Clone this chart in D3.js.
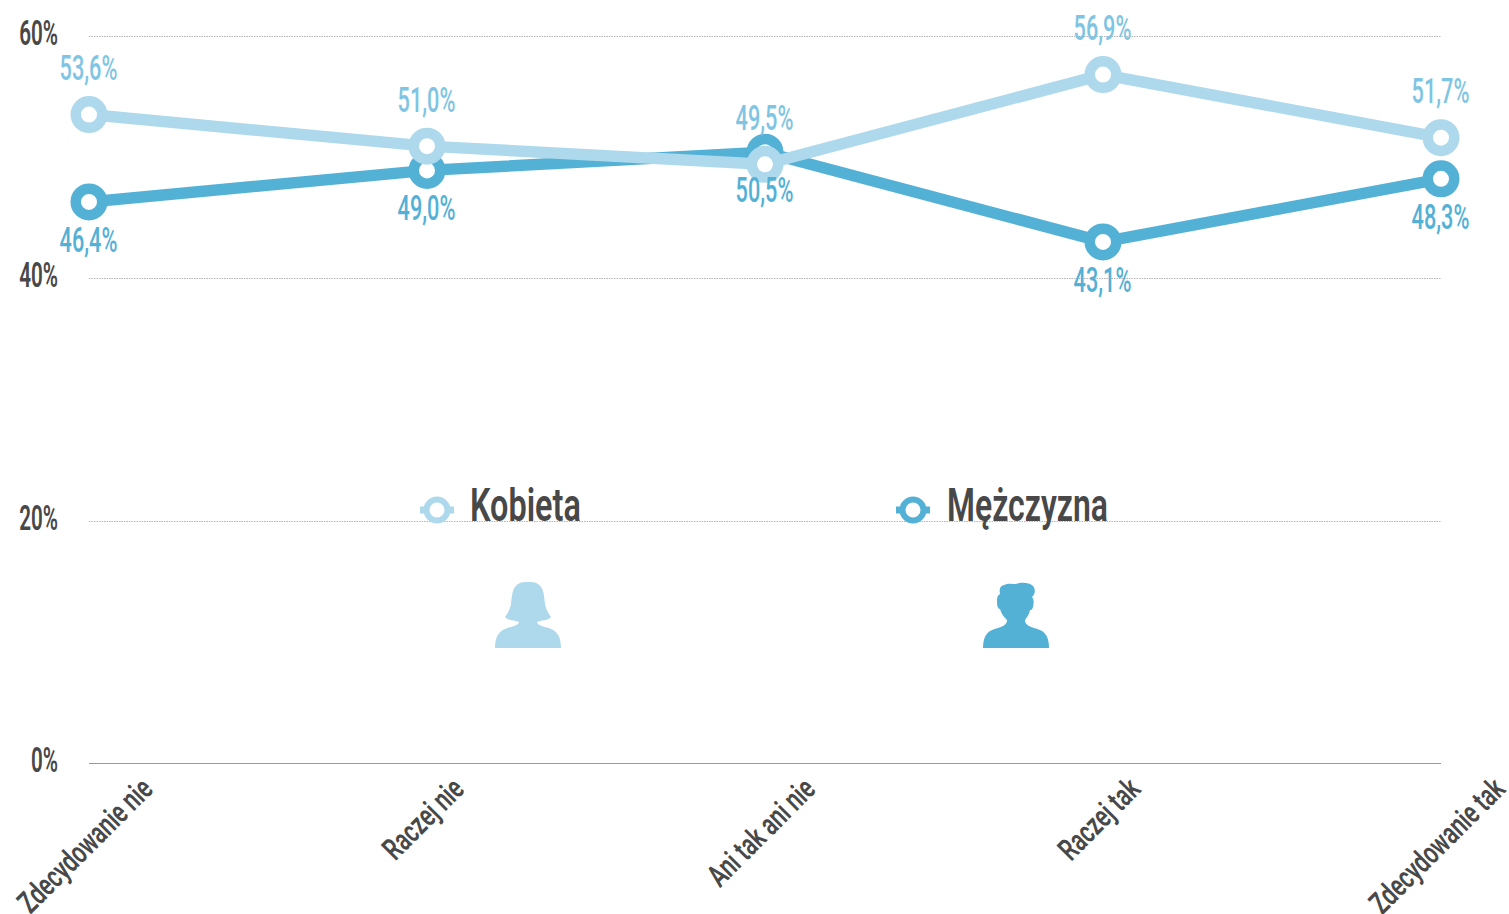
<!DOCTYPE html>
<html><head><meta charset="utf-8">
<script src="https://cdn.jsdelivr.net/npm/d3@7/dist/d3.min.js"></script>
<style>html,body{margin:0;padding:0;background:#fff;overflow:hidden}svg{display:block}
text{font-family:Roboto,sans-serif;font-weight:500}</style></head>
<body><svg id="c" width="1509" height="914"></svg>
<script>
const categories = ["Zdecydowanie nie","Raczej nie","Ani tak ani nie","Raczej tak","Zdecydowanie tak"];
const kobieta = [53.6,51.0,49.5,56.9,51.7];
const mezczyzna = [46.4,49.0,50.5,43.1,48.3];
const yTicks = [0,20,40,60];
const seriesNames = ["Kobieta","Mężczyzna"];

const LIGHT="#aed9ec", DARK="#54b1d6", LIGHTTXT="#7fc5e3", INK="#484848";
const svg=d3.select("#c");
const x=d3.scalePoint().domain(categories).range([89,1441]);
const y=d3.scaleLinear().domain([0,60]).range([764.5,37]);
const fmt=v=>v.toFixed(1).replace(".",",")+"%";
const SX=0.62;

function label(g,str,px,py,size,fill,anchor,sx=SX,rot=0,weight=500){
  return g.append("text").text(str)
    .attr("transform",`translate(${px},${py})${rot?` rotate(${rot})`:""} scale(${sx},1)`)
    .attr("text-anchor",anchor).attr("font-size",size).attr("fill",fill)
    .style("font-weight",weight);
}

const yAxis=d3.axisLeft(y).tickValues(yTicks).tickSize(0).tickPadding(0).tickFormat(d=>d+"%");
const ya=svg.append("g").attr("transform","translate(58,0)").call(yAxis);
ya.select(".domain").remove();
ya.selectAll("text").remove();
ya.selectAll(".tick").each(function(d){
  d3.select(this).append("text").text(d+"%").attr("text-anchor","end")
   .attr("transform","translate(0,7) scale(0.59,1)")
   .attr("font-size",35).attr("fill",INK).style("font-weight",600);
});
svg.append("g").selectAll("line").data(yTicks).join("line")
  .attr("x1",x(categories[0])).attr("x2",x(categories[4]))
  .attr("y1",d=>Math.floor(y(d))-0.5).attr("y2",d=>Math.floor(y(d))-0.5)
  .attr("stroke",d=>d===0?"#999":"#b5b5b5")
  .attr("stroke-width",1)
  .attr("stroke-dasharray",d=>d===0?null:"1.5,1");

const xa=svg.append("g");
const CSX=0.7;
categories.forEach(c=>{
  const t=label(xa,c,0,0,31,INK,"end",CSX,-45,600);
  const L=t.node().getComputedTextLength()*CSX;
  t.attr("transform",`translate(${x(c)+3.5+L/2*Math.SQRT1_2},791) rotate(-45) scale(${CSX},1)`);
});

function ring(g,cx,cy,color){
  g.append("line").attr("x1",cx-17).attr("x2",cx+17).attr("y1",cy).attr("y2",cy)
    .attr("stroke",color).attr("stroke-width",7);
  g.append("circle").attr("cx",cx).attr("cy",cy).attr("r",10.5)
    .attr("fill","#fff").attr("stroke",color).attr("stroke-width",6);
}
const lg=svg.append("g");
ring(lg,437,510,LIGHT);
ring(lg,913,510,DARK);
label(lg,seriesNames[0],470,521,46,INK,"start",0.705,0,600);
label(lg,seriesNames[1],947,521,46,INK,"start",0.695,0,600);

const woman="M-33,66 C-33,52 -27,47 -17,45 C-13,44 -9,42 -9,40 C-13,38 -20,39 -23,35 C-21,32 -18,28 -17,22 C-16,14 -16,6 -10,2 C-7,0 -3,0 0,0 C3,0 7,0 10,2 C16,6 16,14 17,22 C18,28 21,32 23,35 C20,39 13,38 9,40 C9,42 13,44 17,45 C27,47 33,52 33,66 Z";
const man="M-33,65 C-33,52 -28,47 -18,45 C-12,43 -9,41 -9,37 C-13,33 -15,30 -16,26 C-19,26 -19,20 -19,17 C-19,14 -18,12 -16,11 C-17,6 -16,3 -12,2 C-8,0 -4,1 0,1 C5,-1 13,-1 17,3 C20,7 19,11 16,14 C18,16 18,20 17,24 C16,27 15,27 14,27 C13,32 11,34 9,37 C9,41 12,43 18,45 C28,47 33,52 33,65 Z";
lg.append("path").attr("d",woman).attr("transform","translate(528,582)").attr("fill",LIGHT);
lg.append("path").attr("d",man).attr("transform","translate(1016,583)").attr("fill",DARK);

const line=d3.line().x((d,i)=>x(categories[i])).y(d=>y(d));
function series(vals,color){
  const g=svg.append("g");
  g.append("path").datum(vals).attr("d",line).attr("fill","none")
    .attr("stroke",color).attr("stroke-width",11.5).attr("stroke-linejoin","round");
  g.selectAll("circle").data(vals).join("circle")
    .attr("cx",(d,i)=>x(categories[i])).attr("cy",d=>y(d)).attr("r",13.25)
    .attr("fill","#fff").attr("stroke",color).attr("stroke-width",10.5);
}
series(mezczyzna,DARK);
series(kobieta,LIGHT);

const vl=svg.append("g");
kobieta.forEach((v,i)=>label(vl,fmt(v),x(categories[i])-0.5,y(v)-34.5,35,LIGHTTXT,"middle",0.62));
mezczyzna.forEach((v,i)=>label(vl,fmt(v),x(categories[i])-0.5,y(v)+50,35,DARK,"middle",0.62));
</script></body></html>
